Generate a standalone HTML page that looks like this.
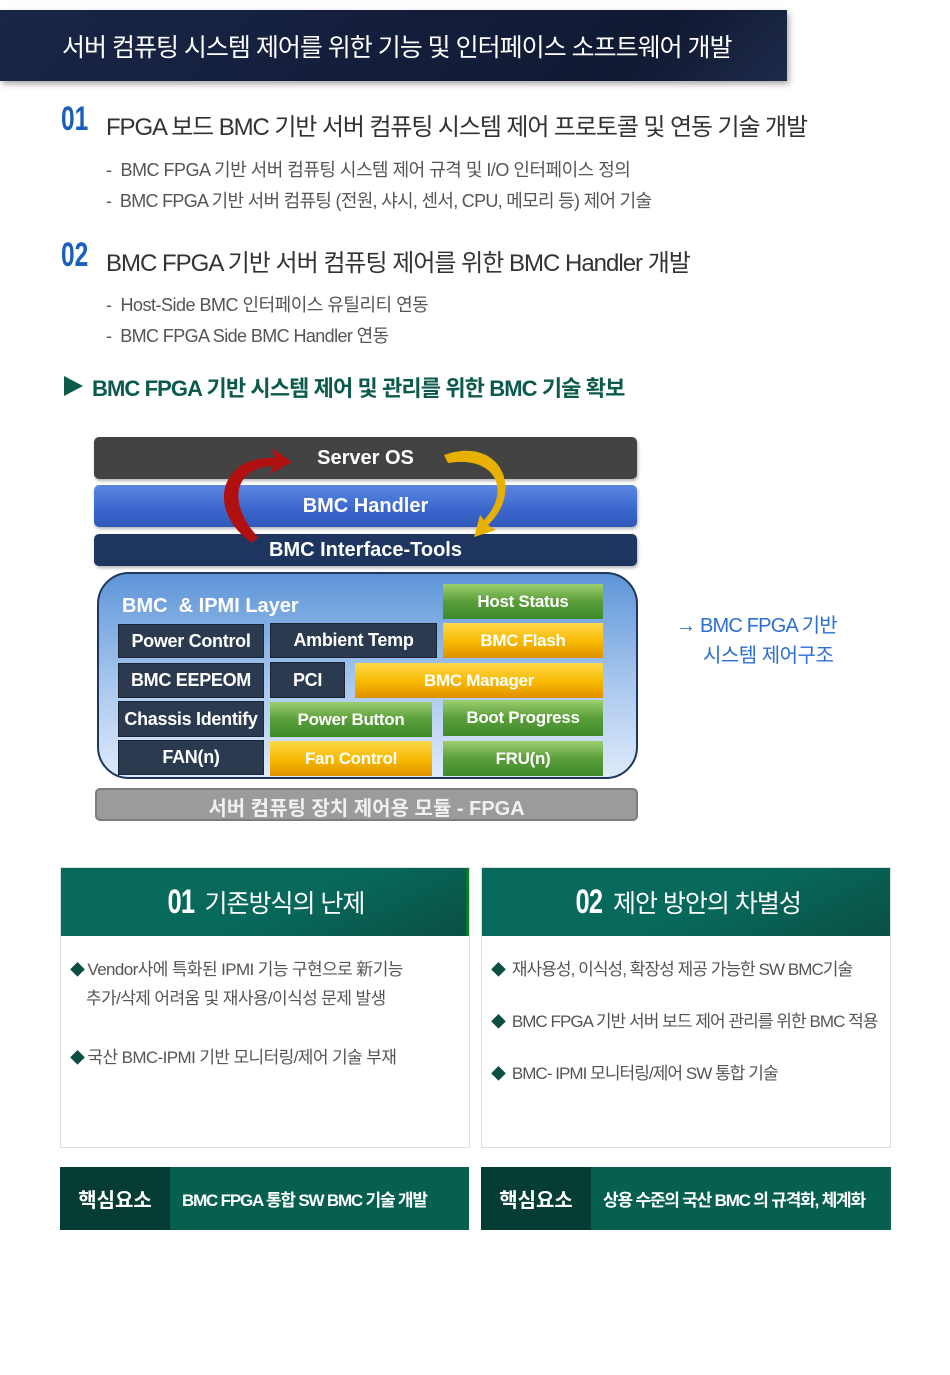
<!DOCTYPE html>
<html><head><meta charset="utf-8"><style>
*{margin:0;padding:0;box-sizing:border-box}
body{width:950px;height:1375px;background:#fff;position:relative;overflow:hidden;font-family:"Liberation Sans","Noto Sans CJK KR",sans-serif}
.a{position:absolute;white-space:nowrap}
.num{position:absolute;font-size:34px;color:#1a5fbe;font-family:"Liberation Sans Narrow","Liberation Sans",sans-serif;font-weight:bold;transform:scaleX(0.72);transform-origin:left top}
.cell{position:absolute;display:flex;align-items:center;justify-content:center;color:#fff;font-weight:bold;font-size:17px;letter-spacing:-0.3px}
.dk{background:#2c3a50;border:1px solid #1b2535}
.gr{background:linear-gradient(#9ccf6e,#5a9e3a 50%,#3f8a2c)}
.yl{background:linear-gradient(#ffd84a,#f6b800 55%,#e09000)}
.box{position:absolute;border:1px solid #ddd;background:#fff}
.hd{position:absolute;left:0;top:0;right:0;height:68px;background:linear-gradient(155deg,#07695b 0%,#07695b 55%,#0a5044 100%);color:#fff;display:flex;align-items:center;justify-content:center;font-size:25px;letter-spacing:-1px}
.hd b{font-family:"Liberation Sans Narrow","Liberation Sans",sans-serif;font-size:34px;margin-right:6px;font-weight:bold;display:inline-block;transform:scaleX(0.75)}
.li{position:absolute;font-size:17px;color:#555;letter-spacing:-0.6px;white-space:nowrap}
.r .li{letter-spacing:-0.95px}
.li i{font-style:normal;color:#0b4e44;font-size:15px;margin-right:3px}
.bar{position:absolute;height:63px;background:#07604f;color:#fff;font-weight:bold;font-size:17px;letter-spacing:-1.2px}
.bar .k{position:absolute;left:0;top:0;width:110px;height:63px;background:#053d34;display:flex;align-items:center;justify-content:center;font-size:20px;letter-spacing:0}
.bar .t{position:absolute;left:122px;top:0;height:63px;display:flex;align-items:center}
</style></head><body>
<div class="a" style="left:0;top:10px;width:787px;height:71px;background:linear-gradient(135deg,#1a2548,#111a33 80%,#1e2a4a);box-shadow:2px 3px 6px rgba(0,0,0,.35)"></div>
<div class="a" style="left:62px;top:28px;font-size:25px;color:#fff;letter-spacing:-1.0px">서버 컴퓨팅 시스템 제어를 위한 기능 및 인터페이스 소프트웨어 개발</div>

<div class="num" style="left:61px;top:100px">01</div>
<div class="a" style="left:106px;top:107px;font-size:24px;color:#333;letter-spacing:-1.1px">FPGA 보드 BMC 기반 서버 컴퓨팅 시스템 제어 프로토콜 및 연동 기술 개발</div>
<div class="a" style="left:106px;top:156px;font-size:18px;color:#555;letter-spacing:-0.5px">-&nbsp; BMC FPGA 기반 서버 컴퓨팅 시스템 제어 규격 및 I/O 인터페이스 정의</div>
<div class="a" style="left:106px;top:187px;font-size:18px;color:#555;letter-spacing:-0.7px">-&nbsp; BMC FPGA 기반 서버 컴퓨팅 (전원, 샤시, 센서, CPU, 메모리 등) 제어 기술</div>

<div class="num" style="left:61px;top:236px">02</div>
<div class="a" style="left:106px;top:243px;font-size:24px;color:#333;letter-spacing:-1.0px">BMC FPGA 기반 서버 컴퓨팅 제어를 위한 BMC Handler 개발</div>
<div class="a" style="left:106px;top:291px;font-size:18px;color:#555;letter-spacing:-0.5px">-&nbsp; Host-Side BMC 인터페이스 유틸리티 연동</div>
<div class="a" style="left:106px;top:322px;font-size:18px;color:#555;letter-spacing:-0.6px">-&nbsp; BMC FPGA Side BMC Handler 연동</div>

<div class="a" style="left:64px;top:376px;width:0;height:0;border-left:19px solid #0b5a4c;border-top:10px solid transparent;border-bottom:10px solid transparent"></div>
<div class="a" style="left:92px;top:371px;font-size:22px;color:#0b5a4c;font-weight:bold;letter-spacing:-0.9px">BMC FPGA 기반 시스템 제어 및 관리를 위한 BMC 기술 확보</div>

<!-- diagram -->
<div class="a" style="left:94px;top:437px;width:543px;height:42px;background:#434343;border-radius:5px;box-shadow:1px 2px 3px rgba(0,0,0,.3)"></div>
<div class="a" style="left:94px;top:447px;width:543px;text-align:center;color:#fff;font-weight:bold;font-size:20px">Server OS</div>
<div class="a" style="left:94px;top:485px;width:543px;height:42px;background:linear-gradient(#5c88e0,#3a66cc 60%,#3058b8);border-radius:5px;box-shadow:1px 2px 3px rgba(0,0,0,.3)"></div>
<div class="a" style="left:94px;top:495px;width:543px;text-align:center;color:#fff;font-weight:bold;font-size:20px">BMC Handler</div>
<div class="a" style="left:94px;top:534px;width:543px;height:32px;background:#1e3560;border-radius:5px;box-shadow:1px 2px 3px rgba(0,0,0,.3)"></div>
<div class="a" style="left:94px;top:539px;width:543px;text-align:center;color:#fff;font-weight:bold;font-size:20px">BMC Interface-Tools</div>
<svg class="a" style="left:0;top:0" width="950" height="600">
<path d="M252,543 C205,510 220,455 275,458 L272,448 L292,462 L270,474 L273,466 C232,468 228,505 258,537 Z" fill="#b01010"/>
<path d="M444,455 C500,435 525,490 488,525 L496,530 L474,537 L480,515 L484,520 C512,490 495,455 448,463 Z" fill="#e8b000"/>
</svg>
<div class="a" style="left:97px;top:572px;width:541px;height:207px;border:2px solid #1e3560;border-radius:32px;background:linear-gradient(#5e95d8,#a9c8ee 55%,#dfeafa)"></div>
<div class="a" style="left:122px;top:595px;color:#fff;font-weight:bold;font-size:20px">BMC &nbsp;&amp; IPMI Layer</div>
<div class="cell gr" style="left:443px;top:584px;width:160px;height:35px">Host Status</div>
<div class="cell dk" style="left:118px;top:624px;width:146px;height:34px;font-size:18px">Power Control</div>
<div class="cell dk" style="left:270px;top:623px;width:167px;height:35px;font-size:18px">Ambient Temp</div>
<div class="cell yl" style="left:443px;top:623px;width:160px;height:35px">BMC Flash</div>
<div class="cell dk" style="left:118px;top:663px;width:146px;height:35px;font-size:18px">BMC EEPEOM</div>
<div class="cell dk" style="left:270px;top:662px;width:75px;height:36px;font-size:18px">PCI</div>
<div class="cell yl" style="left:355px;top:663px;width:248px;height:35px">BMC Manager</div>
<div class="cell dk" style="left:118px;top:701px;width:146px;height:36px;font-size:18px">Chassis Identify</div>
<div class="cell gr" style="left:270px;top:702px;width:162px;height:35px">Power Button</div>
<div class="cell gr" style="left:443px;top:700px;width:160px;height:36px">Boot Progress</div>
<div class="cell dk" style="left:118px;top:740px;width:146px;height:35px;font-size:18px">FAN(n)</div>
<div class="cell yl" style="left:270px;top:741px;width:162px;height:35px">Fan Control</div>
<div class="cell gr" style="left:443px;top:741px;width:160px;height:35px">FRU(n)</div>
<div class="a" style="left:95px;top:788px;width:543px;height:33px;background:#9b9b9b;border:2px solid #7d7d7d;border-radius:5px"></div>
<div class="a" style="left:95px;top:792px;width:543px;text-align:center;color:#f0f0f0;font-weight:bold;font-size:20px">서버 컴퓨팅 장치 제어용 모듈 - FPGA</div>

<div class="a" style="left:676px;top:609px;font-size:20px;color:#2c6fd2;letter-spacing:-0.8px">→ BMC FPGA 기반</div>
<div class="a" style="left:703px;top:639px;font-size:20px;color:#2c6fd2;letter-spacing:-0.5px">시스템 제어구조</div>

<!-- boxes -->
<div class="box" style="left:60px;top:867px;width:410px;height:281px">
 <div class="hd" style="border-right:3px solid #0d7a2a"><b>01</b>기존방식의 난제</div>
 <div class="li" style="left:9px;top:87px"><i>◆</i>Vendor사에 특화된 IPMI 기능 구현으로 新기능</div>
 <div class="li" style="left:25px;top:116px">추가/삭제 어려움 및 재사용/이식성 문제 발생</div>
 <div class="li" style="left:9px;top:175px"><i>◆</i>국산 BMC-IPMI 기반 모니터링/제어 기술 부재</div>
</div>
<div class="box r" style="left:481px;top:867px;width:410px;height:281px">
 <div class="hd"><b>02</b>제안 방안의 차별성</div>
 <div class="li" style="left:9px;top:87px"><i>◆</i> 재사용성, 이식성, 확장성 제공 가능한 SW BMC기술</div>
 <div class="li" style="left:9px;top:139px"><i>◆</i> BMC FPGA 기반 서버 보드 제어 관리를 위한 BMC 적용</div>
 <div class="li" style="left:9px;top:191px"><i>◆</i> BMC- IPMI 모니터링/제어 SW 통합 기술</div>
</div>
<div class="bar" style="left:60px;top:1167px;width:409px"><div class="k">핵심요소</div><div class="t">BMC FPGA 통합 SW BMC 기술 개발</div></div>
<div class="bar" style="left:481px;top:1167px;width:410px"><div class="k">핵심요소</div><div class="t">상용 수준의 국산 BMC 의 규격화, 체계화</div></div>
</body></html>
